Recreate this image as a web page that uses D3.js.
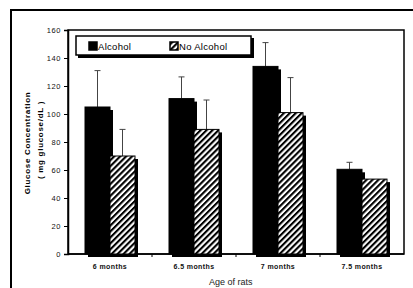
<!DOCTYPE html>
<html>
<head>
<meta charset="utf-8">
<script src="https://cdn.jsdelivr.net/npm/d3@7"></script>
<style>
  body { margin: 0; background: #fff; }
  svg { display: block; font-family: Arial, "Liberation Sans", sans-serif; }
</style>
</head>
<body>
<div id="viz"></div>
<script>
var categories = ["6 months", "6.5 months", "7 months", "7.5 months"];
var series = ["Alcohol", "No Alcohol"];
var alcohol = [105, 111, 134, 60.5];
var alcoholErr = [26, 15.5, 17, 5];
var noAlcohol = [70, 89, 101, 53.5];
var noAlcoholErr = [19, 21, 25, 0];
var yTicks = [0, 20, 40, 60, 80, 100, 120, 140, 160];

var width = 413, height = 288;
var margin = {top: 30, right: 9, bottom: 34, left: 68};

var svg = d3.select('#viz')
  .append('svg')
  .attr('width', width)
  .attr('height', height);

// hatch pattern for "No Alcohol"
var defs = svg.append('defs');
defs.append('pattern')
  .attr('id', 'hatch')
  .attr('patternUnits', 'userSpaceOnUse')
  .attr('width', 4.2)
  .attr('height', 4.2)
  .attr('patternTransform', 'rotate(45)')
  .call(p => {
    p.append('rect').attr('width', 4.2).attr('height', 4.2).attr('fill', '#fff');
    p.append('line').attr('x1', 1).attr('x2', 1).attr('y1', 0).attr('y2', 4.2)
      .attr('stroke', '#000').attr('stroke-width', 2.2);
  });

// outer frame (only top and left visible)
svg.append('rect')
  .attr('x', 11).attr('y', 10)
  .attr('width', 420).attr('height', 300)
  .attr('fill', 'none')
  .attr('stroke', '#000')
  .attr('stroke-width', 2);

var x = d3.scaleBand()
  .domain(categories)
  .range([margin.left, width - margin.right]);

var xs = d3.scaleBand()
  .domain(series)
  .range([0, 50])
  .paddingInner(0);

var y = d3.scaleLinear()
  .domain([0, 160])
  .range([height - margin.bottom, margin.top]);

// plot box
svg.append('rect')
  .attr('x', margin.left).attr('y', margin.top)
  .attr('width', width - margin.right - margin.left)
  .attr('height', y(0) - margin.top)
  .attr('fill', 'none')
  .attr('stroke', '#000')
  .attr('stroke-width', 1.5);

// y axis
var yAxis = svg.append('g')
  .attr('transform', `translate(${margin.left},0)`)
  .call(d3.axisLeft(y).tickValues(yTicks).tickSize(4).tickPadding(3));
yAxis.select('.domain').attr('stroke-width', 1.5);
yAxis.selectAll('text').attr('font-size', 7.5).attr('letter-spacing', 0.6).attr('fill', '#111');

// x axis ticks at category boundaries
var xAxis = svg.append('g')
  .attr('transform', `translate(0,${y(0)})`);
xAxis.append('line')
  .attr('x1', margin.left).attr('x2', width - margin.right)
  .attr('stroke', '#000').attr('stroke-width', 1.5);
xAxis.selectAll('.xt')
  .data(categories.slice(1))
  .join('line')
  .attr('class', 'xt')
  .attr('x1', d => x(d)).attr('x2', d => x(d))
  .attr('y1', 0).attr('y2', 3)
  .attr('stroke', '#000');
xAxis.selectAll('text')
  .data(categories)
  .join('text')
  .attr('x', d => x(d) + x.bandwidth() / 2)
  .attr('y', 15)
  .attr('text-anchor', 'middle')
  .attr('font-size', 7)
  .attr('font-weight', 'bold')
  .attr('letter-spacing', 0.4)
  .attr('fill', '#111')
  .text(d => d);

// bars
var rows = categories.map((c, i) => ({
  cat: c,
  vals: [
    {s: series[0], v: alcohol[i], e: alcoholErr[i]},
    {s: series[1], v: noAlcohol[i], e: noAlcoholErr[i]}
  ]
}));

var groups = svg.selectAll('.grp')
  .data(rows)
  .join('g')
  .attr('class', 'grp')
  .attr('transform', d => `translate(${x(d.cat) + (x.bandwidth() - 50) / 2},0)`);

var sh = 3;
groups.each(function(row) {
  var g = d3.select(this);
  row.vals.forEach(function(d) {
    var bx = xs(d.s), bw = xs.bandwidth();
    // error bar (upper only)
    if (d.e > 0) {
      g.append('line')
        .attr('x1', bx + bw / 2).attr('x2', bx + bw / 2)
        .attr('y1', y(d.v)).attr('y2', y(d.v + d.e))
        .attr('stroke', '#444').attr('stroke-width', 1);
      g.append('line')
        .attr('x1', bx + bw / 2 - 3).attr('x2', bx + bw / 2 + 3)
        .attr('y1', y(d.v + d.e)).attr('y2', y(d.v + d.e))
        .attr('stroke', '#444').attr('stroke-width', 1);
    }
    // shadow
    g.append('rect')
      .attr('x', bx + sh).attr('y', y(d.v) + sh)
      .attr('width', bw).attr('height', y(0) - y(d.v))
      .attr('fill', '#000');
    // bar
    g.append('rect')
      .attr('x', bx).attr('y', y(d.v))
      .attr('width', bw).attr('height', y(0) - y(d.v))
      .attr('fill', d.s === 'Alcohol' ? '#000' : 'url(#hatch)')
      .attr('stroke', '#000')
      .attr('stroke-width', 1);
  });
});

// legend
var lg = svg.append('g').attr('transform', 'translate(76,36)');
lg.append('rect').attr('x', 2).attr('y', 2).attr('width', 176).attr('height', 20).attr('fill', '#000');
lg.append('rect').attr('x', 0).attr('y', 0).attr('width', 175).attr('height', 19)
  .attr('fill', '#fff').attr('stroke', '#000').attr('stroke-width', 1.5);
var legX = [13, 94];
series.forEach(function(s, i) {
  lg.append('rect')
    .attr('x', legX[i]).attr('y', 6)
    .attr('width', 8).attr('height', 8)
    .attr('fill', i === 0 ? '#000' : 'url(#hatch)')
    .attr('stroke', '#000').attr('stroke-width', 1.5);
  lg.append('text')
    .attr('x', legX[i] + 9).attr('y', 14)
    .attr('font-size', 9.5)
    .attr('letter-spacing', 0.3)
    .attr('fill', '#000')
    .text(s);
});

// axis titles
svg.append('text')
  .attr('transform', 'translate(30,143) rotate(-90)')
  .attr('text-anchor', 'middle')
  .attr('font-size', 8)
  .attr('font-weight', 'bold')
  .attr('letter-spacing', 0.7)
  .text('Glucose Concentration');
svg.append('text')
  .attr('transform', 'translate(43,140) rotate(-90)')
  .attr('text-anchor', 'middle')
  .attr('font-size', 8)
  .attr('font-weight', 'bold')
  .attr('letter-spacing', 0.7)
  .text('( mg glucose/dL )');
svg.append('text')
  .attr('x', 209).attr('y', 285)
  .attr('font-size', 9)
  .attr('fill', '#222')
  .text('Age of rats');
</script>
</body>
</html>
